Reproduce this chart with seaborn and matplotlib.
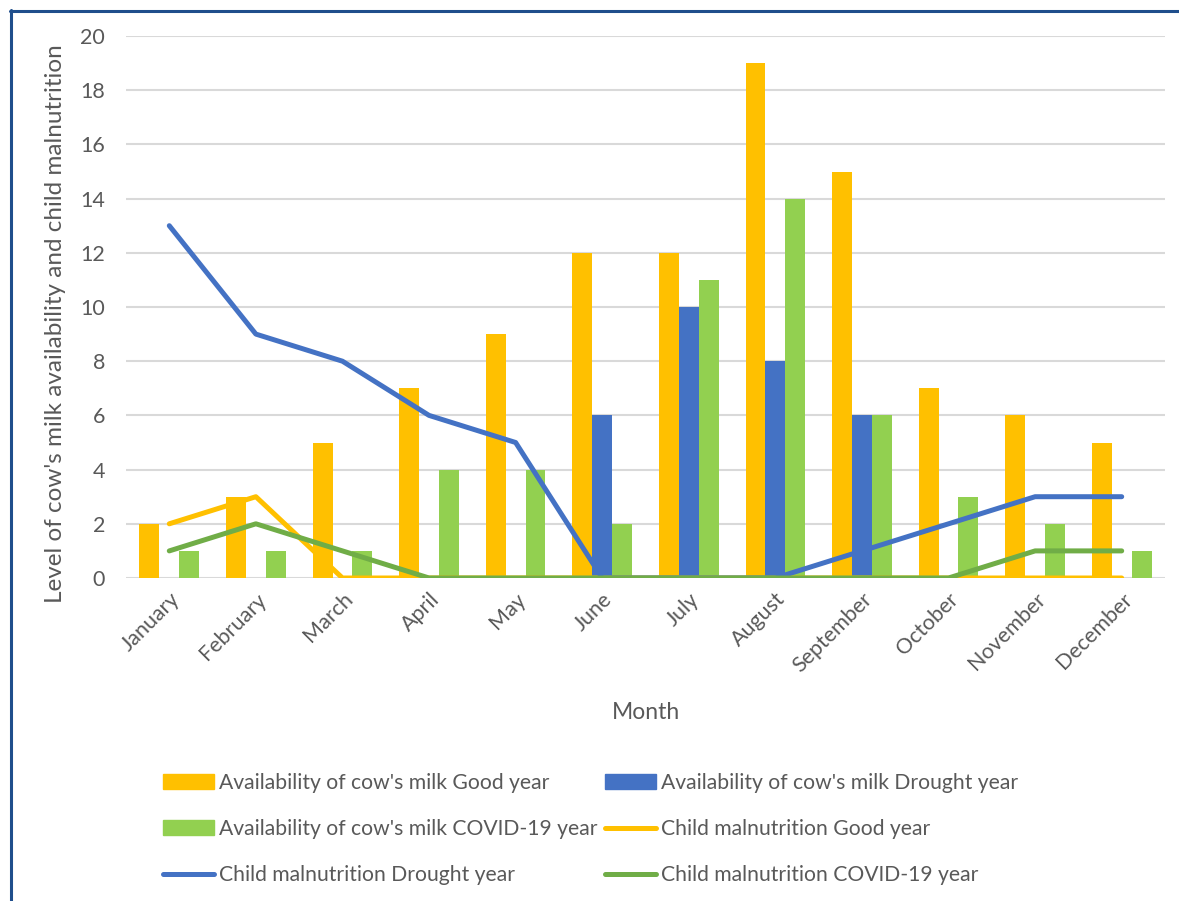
import numpy as np
import pandas as pd
import matplotlib
matplotlib.use("Agg")
import matplotlib.pyplot as plt
from matplotlib.lines import Line2D
from matplotlib.patches import Patch
import seaborn as sns

# data
months = ["January", "February", "March", "April", "May", "June", "July",
          "August", "September", "October", "November", "December"]
milk_good = [2, 3, 5, 7, 9, 12, 12, 19, 15, 7, 6, 5]
milk_drought = [0, 0, 0, 0, 0, 6, 10, 8, 6, 0, 0, 0]
milk_covid = [1, 1, 1, 4, 4, 2, 11, 14, 6, 3, 2, 1]
maln_good = [2, 3, 0, 0, 0, 0, 0, 0, 0, 0, 0, 0]
maln_drought = [13, 9, 8, 6, 5, 0, 0, 0, 1, 2, 3, 3]
maln_covid = [1, 2, 1, 0, 0, 0, 0, 0, 0, 0, 1, 1]

bar_names = ["Availability of cow's milk Good year",
             "Availability of cow's milk Drought year",
             "Availability of cow's milk COVID-19 year"]
line_names = ["Child malnutrition Good year",
              "Child malnutrition Drought year",
              "Child malnutrition COVID-19 year"]
bar_colors = ["#ffc000", "#4472c4", "#92d050"]
line_colors = ["#ffc000", "#4472c4", "#70ad47"]
grey = "#595959"

bars = pd.DataFrame({
    "Month": months * 3,
    "value": milk_good + milk_drought + milk_covid,
    "series": [n for n in bar_names for _ in months],
})
lines = pd.DataFrame({
    "pos": list(range(len(months))) * 3,
    "value": maln_good + maln_drought + maln_covid,
    "series": [n for n in line_names for _ in months],
})

sns.set_theme(style="white")
plt.rcParams['font.family'] = ['Lato', 'DejaVu Sans']

W, H = 1179, 901
fig = plt.figure(figsize=(W / 100, H / 100), dpi=100)
ax = fig.add_axes([126 / W, 1 - 578 / H, (1165 - 126) / W, (578 - 36) / H])

sns.barplot(data=bars, x="Month", y="value", hue="series", hue_order=bar_names,
            palette=bar_colors, saturation=1, width=0.69, gap=0, errorbar=None,
            legend=False, linewidth=0, ax=ax)
sns.lineplot(data=lines, x="pos", y="value", hue="series", hue_order=line_names,
             palette=line_colors, linewidth=3.6, estimator=None, sort=False,
             legend=False, ax=ax, solid_capstyle="round", solid_joinstyle="round")

ax.set_xlim(-0.5, len(months) - 0.5)
ax.set_ylim(0, 20)
ax.set_yticks(range(0, 21, 2))
ax.set_xticks(range(len(months)))
ax.set_xticklabels(months, rotation=45, ha="right", rotation_mode="anchor")
ax.tick_params(axis="y", length=0, pad=15, labelsize=15.5, labelcolor=grey)
ax.tick_params(axis="x", length=0, pad=8, labelsize=15.5, labelcolor=grey)
ax.yaxis.grid(True, color="#d9d9d9", lw=1.5)
ax.set_axisbelow(True)
sns.despine(ax=ax, left=True, bottom=True)

ax.set_ylabel("Level of cow's milk availability and child malnutrition",
              fontsize=17.5, color=grey)
ax.yaxis.set_label_coords(-0.058, 0.47)
ax.set_xlabel("Month", fontsize=16.5, color=grey)
ax.xaxis.set_label_coords(0.5, -0.228)

handles = [Patch(color=bar_colors[0]), Patch(color=bar_colors[2]),
           Line2D([], [], color=line_colors[1], lw=3.6, solid_capstyle="round"),
           Patch(color=bar_colors[1]),
           Line2D([], [], color=line_colors[0], lw=3.6, solid_capstyle="round"),
           Line2D([], [], color=line_colors[2], lw=3.6, solid_capstyle="round")]
labels = [bar_names[0], bar_names[2], line_names[1],
          bar_names[1], line_names[0], line_names[2]]
fig.legend(handles, labels, ncol=2, loc="upper left",
           bbox_to_anchor=(163 / W, 1 - 773 / H), frameon=False, fontsize=15.2,
           handlelength=2.42, handletextpad=0.24, columnspacing=0.35,
           labelspacing=1.23, borderpad=0, borderaxespad=0, labelcolor=grey)

# dark blue frame (top and left edges visible)
fig.add_artist(Line2D([10 / W, 1], [1 - 11 / H] * 2, color="#1f4e8c", lw=2.2,
                      transform=fig.transFigure))
fig.add_artist(Line2D([11 / W] * 2, [0, 1 - 10 / H], color="#1f4e8c", lw=2.2,
                      transform=fig.transFigure))

fig.savefig("out.png", dpi=100)
